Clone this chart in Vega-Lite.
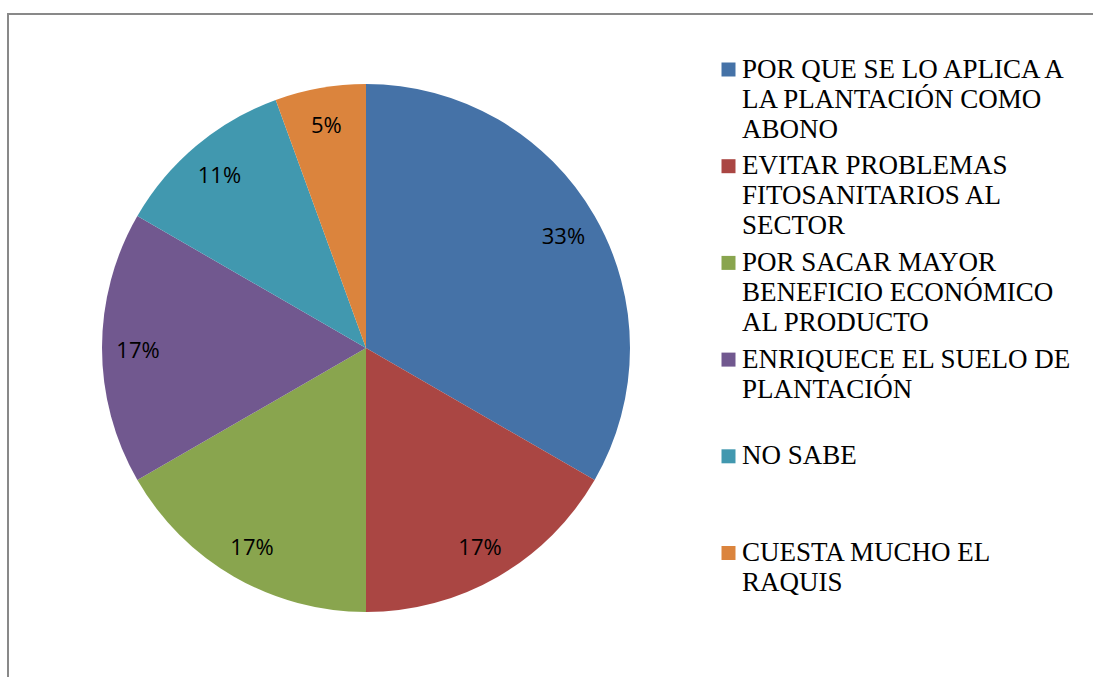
{
  "$schema": "https://vega.github.io/schema/vega-lite/v6.json",
  "width": 1091,
  "height": 669,
  "autosize": {"type": "none"},
  "padding": {"left": 8, "top": 14, "right": 0, "bottom": 0},
  "background": "white",
  "view": {"stroke": "#898989", "strokeWidth": 2, "fill": "white"},
  "config": {
    "view": {"stroke": "#898989", "strokeWidth": 2},
    "style": {"guide-label": {"lineHeight": 30}}
  },
  "data": {
    "values": [
      {"orden": 1, "respuesta": "POR QUE SE LO APLICA A LA PLANTACIÓN COMO ABONO", "cantidad": 6, "etiqueta": "33%"},
      {"orden": 2, "respuesta": "EVITAR PROBLEMAS FITOSANITARIOS AL SECTOR", "cantidad": 3, "etiqueta": "17%"},
      {"orden": 3, "respuesta": "POR SACAR MAYOR BENEFICIO ECONÓMICO AL PRODUCTO", "cantidad": 3, "etiqueta": "17%"},
      {"orden": 4, "respuesta": "ENRIQUECE EL SUELO DE PLANTACIÓN", "cantidad": 3, "etiqueta": "17%"},
      {"orden": 5, "respuesta": "NO SABE", "cantidad": 2, "etiqueta": "11%"},
      {"orden": 6, "respuesta": "CUESTA MUCHO EL RAQUIS", "cantidad": 1, "etiqueta": "5%"}
    ]
  },
  "encoding": {
    "theta": {"field": "cantidad", "type": "quantitative", "stack": true},
    "order": {"field": "orden", "type": "quantitative", "sort": "ascending"}
  },
  "layer": [
    {
      "mark": {"type": "arc", "outerRadius": 264, "x": {"expr": "width * 0.32814"}, "y": {"expr": "height * 0.49925"}},
      "encoding": {
        "color": {
          "field": "respuesta",
          "type": "nominal",
          "sort": null,
          "scale": {
            "domain": [
              "POR QUE SE LO APLICA A LA PLANTACIÓN COMO ABONO",
              "EVITAR PROBLEMAS FITOSANITARIOS AL SECTOR",
              "POR SACAR MAYOR BENEFICIO ECONÓMICO AL PRODUCTO",
              "ENRIQUECE EL SUELO DE PLANTACIÓN",
              "NO SABE",
              "CUESTA MUCHO EL RAQUIS"
            ],
            "range": ["#4572A7", "#AA4643", "#89A54E", "#71588F", "#4198AF", "#DB843D"]
          },
          "legend": {
            "orient": "none",
            "legendX": 707,
            "legendY": 42,
            "title": null,
            "padding": 0,
            "symbolType": "square",
            "symbolSize": 196,
            "symbolStrokeWidth": 0,
            "symbolOpacity": 1,
            "labelFont": "Liberation Serif",
            "labelFontSize": 27,
            "labelColor": "black",
            "labelLimit": 0,
            "labelOffset": 0,
            "labelBaseline": "middle",
            "rowPadding": 8.7,
            "labelExpr": "datum.label == 'POR QUE SE LO APLICA A LA PLANTACIÓN COMO ABONO' ? ['POR QUE SE LO APLICA A', 'LA PLANTACIÓN COMO', 'ABONO'] : datum.label == 'EVITAR PROBLEMAS FITOSANITARIOS AL SECTOR' ? ['EVITAR PROBLEMAS', 'FITOSANITARIOS AL', 'SECTOR'] : datum.label == 'POR SACAR MAYOR BENEFICIO ECONÓMICO AL PRODUCTO' ? ['POR SACAR MAYOR', 'BENEFICIO ECONÓMICO', 'AL PRODUCTO'] : datum.label == 'ENRIQUECE EL SUELO DE PLANTACIÓN' ? ['ENRIQUECE EL SUELO DE', 'PLANTACIÓN', ''] : datum.label == 'NO SABE' ? ['NO SABE', '', ''] : ['CUESTA MUCHO EL', 'RAQUIS', '']"
          }
        }
      }
    },
    {
      "mark": {"type": "text", "radius": 228, "dy": 3, "x": {"expr": "width * 0.32814"}, "y": {"expr": "height * 0.49925"}, "font": "Open Sans", "fontSize": 22, "color": "black"},
      "encoding": {
        "text": {"field": "etiqueta", "type": "nominal"}
      }
    }
  ]
}
